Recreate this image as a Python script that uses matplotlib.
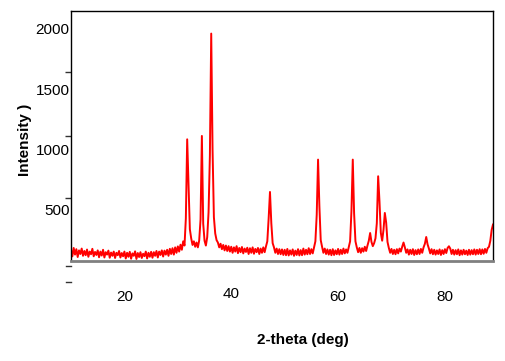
import numpy as np
import matplotlib
matplotlib.use('Agg')
import matplotlib.pyplot as plt

plt.rcParams['font.family'] = ['Liberation Sans', 'DejaVu Sans']

# 2-theta grid, 0.25 deg steps from 10 to 89
two_theta = np.arange(10.0, 89.001, 0.25)

# intensity, one row per 5 degrees
intensity = [
    170, 115, 185, 130, 175, 110, 165, 135, 180, 120, 160, 125, 172, 112, 155, 133, 178, 116, 152, 127,
    165, 108, 155, 122, 170, 106, 150, 130, 163, 104, 147, 120, 155, 102, 145, 125, 160, 106, 143, 116,
    155, 98, 145, 112, 153, 96, 140, 120, 157, 94, 143, 110, 150, 102, 137, 117, 155, 98, 145, 112,
    153, 104, 150, 120, 160, 106, 155, 127, 165, 114, 163, 130, 170, 120, 178, 135, 183, 130, 190, 145,
    198, 155, 212, 170, 240, 205, 430, 1085, 720, 340, 265, 210, 240, 195, 230, 190, 248, 420, 1113, 385,
    245, 205, 275, 480, 950, 1961, 1000, 440, 305, 250, 230, 190, 220, 175, 210, 165, 205, 160, 200, 155,
    195, 145, 190, 155, 200, 142, 185, 150, 193, 140, 180, 152, 187, 135, 183, 145, 190, 137, 177, 150,
    185, 135, 180, 145, 190, 150, 198, 240, 430, 649, 390, 225, 190, 145, 180, 135, 175, 133, 173, 127,
    170, 125, 177, 123, 165, 130, 173, 120, 163, 127, 175, 123, 167, 125, 180, 130, 170, 133, 183, 135,
    175, 140, 192, 240, 460, 917, 530, 250, 195, 145, 180, 135, 173, 130, 170, 125, 175, 127, 165, 133,
    177, 130, 170, 135, 180, 140, 173, 145, 192, 240, 490, 917, 470, 240, 190, 150, 185, 145, 183, 155,
    195, 160, 205, 245, 309, 235, 200, 225, 265, 390, 779, 570, 310, 245, 335, 475, 395, 235, 185, 145,
    177, 135, 170, 133, 175, 140, 180, 155, 195, 230, 190, 145, 173, 130, 170, 135, 175, 127, 167, 133,
    173, 135, 177, 145, 190, 220, 276, 215, 180, 140, 175, 133, 170, 130, 165, 135, 173, 127, 167, 135,
    175, 143, 185, 199, 180, 135, 170, 130, 167, 133, 173, 125, 165, 130, 170, 133, 163, 127, 170, 130,
    167, 133, 173, 130, 170, 135, 175, 133, 173, 137, 177, 145, 183, 195, 245, 335, 379,
]

ytick_vals = [500, 1000, 1500, 2000]
xtick_vals = [20, 40, 60, 80]

fig = plt.figure(figsize=(5.06, 3.61), dpi=100)
ax = fig.add_axes([71/506, 1-261/361, 422/506, 250/361])

ax.plot(two_theta, intensity, color='#ff0000', linewidth=1.4)

ax.set_xlim(10, 89)
ax.set_ylim(77, 2148)

# y labels, tick marks sit a bit off the labels like in the original
ax.set_yticks(ytick_vals)
ax.set_yticklabels([str(v) for v in ytick_vals], fontsize=11)
ax.tick_params(axis='y', which='major', length=0, pad=1)
ax.set_yticks([600, 1110, 1640], minor=True)
ax.tick_params(axis='y', which='minor', length=4, width=1, color='#333333')

# x labels placed as text under the axes
ax.set_xticks([])
for v in xtick_vals:
    yy = -0.132 if v == 40 else -0.143
    ax.text(v, yy, str(v), transform=ax.get_xaxis_transform(),
            ha='center', va='center', fontsize=11)

# two stray dashes below the frame
for yv in [36, -97]:
    ax.plot([-0.012, 0.0], [yv, yv], transform=ax.get_yaxis_transform(),
            color='#333333', linewidth=1, clip_on=False)

for s in ['left', 'top', 'right']:
    ax.spines[s].set_color('black')
    ax.spines[s].set_linewidth(1.0)
ax.spines['bottom'].set_color('#808080')
ax.spines['bottom'].set_linewidth(2.0)

fig.text(303/506, 1-340/361, '2-theta (deg)', ha='center', va='center',
         fontsize=11, fontweight='bold')
fig.text(25/506, 1-140/361, 'Intensity )', ha='center', va='center',
         fontsize=11, fontweight='bold', rotation=90)

fig.savefig('out.png', dpi=100)
